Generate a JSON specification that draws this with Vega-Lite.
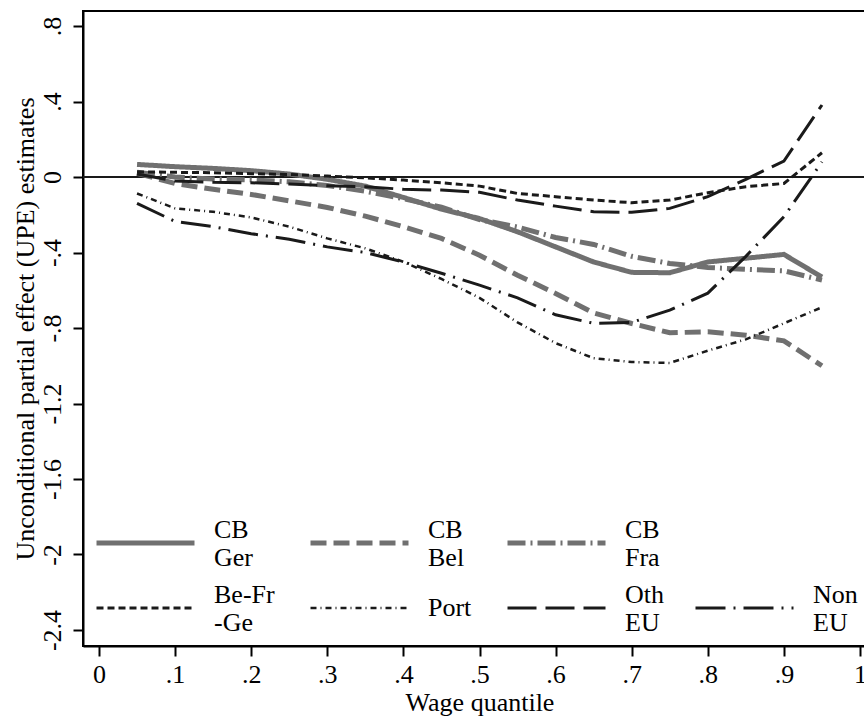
{
"$schema": "https://vega.github.io/schema/vega-lite/v6.json",
"width": 793, "height": 635,
"autosize": "none",
"padding": {"left": 83, "top": 11, "right": 0, "bottom": 77},
"background": "white",
"config": {"view": {"stroke": "#000000", "strokeWidth": 2}, "font": "Liberation Serif"},
"data": {"values": [
{"q":0.05,"s":"CB Ger","v":0.067},{"q":0.10,"s":"CB Ger","v":0.055},{"q":0.15,"s":"CB Ger","v":0.046},{"q":0.20,"s":"CB Ger","v":0.034},{"q":0.25,"s":"CB Ger","v":0.016},{"q":0.30,"s":"CB Ger","v":-0.012},{"q":0.35,"s":"CB Ger","v":-0.048},{"q":0.40,"s":"CB Ger","v":-0.108},{"q":0.45,"s":"CB Ger","v":-0.17},{"q":0.50,"s":"CB Ger","v":-0.22},{"q":0.55,"s":"CB Ger","v":-0.29},{"q":0.60,"s":"CB Ger","v":-0.37},{"q":0.65,"s":"CB Ger","v":-0.45},{"q":0.70,"s":"CB Ger","v":-0.505},{"q":0.75,"s":"CB Ger","v":-0.507},{"q":0.80,"s":"CB Ger","v":-0.45},{"q":0.85,"s":"CB Ger","v":-0.43},{"q":0.90,"s":"CB Ger","v":-0.41},{"q":0.95,"s":"CB Ger","v":-0.53},
{"q":0.05,"s":"CB Bel","v":0.02},{"q":0.10,"s":"CB Bel","v":-0.034},{"q":0.15,"s":"CB Bel","v":-0.065},{"q":0.20,"s":"CB Bel","v":-0.092},{"q":0.25,"s":"CB Bel","v":-0.126},{"q":0.30,"s":"CB Bel","v":-0.161},{"q":0.35,"s":"CB Bel","v":-0.207},{"q":0.40,"s":"CB Bel","v":-0.263},{"q":0.45,"s":"CB Bel","v":-0.325},{"q":0.50,"s":"CB Bel","v":-0.414},{"q":0.55,"s":"CB Bel","v":-0.52},{"q":0.60,"s":"CB Bel","v":-0.617},{"q":0.65,"s":"CB Bel","v":-0.72},{"q":0.70,"s":"CB Bel","v":-0.776},{"q":0.75,"s":"CB Bel","v":-0.825},{"q":0.80,"s":"CB Bel","v":-0.82},{"q":0.85,"s":"CB Bel","v":-0.838},{"q":0.90,"s":"CB Bel","v":-0.868},{"q":0.95,"s":"CB Bel","v":-1.0},
{"q":0.05,"s":"CB Fra","v":0.025},{"q":0.10,"s":"CB Fra","v":0.0},{"q":0.15,"s":"CB Fra","v":-0.01},{"q":0.20,"s":"CB Fra","v":-0.015},{"q":0.25,"s":"CB Fra","v":-0.025},{"q":0.30,"s":"CB Fra","v":-0.045},{"q":0.35,"s":"CB Fra","v":-0.075},{"q":0.40,"s":"CB Fra","v":-0.115},{"q":0.45,"s":"CB Fra","v":-0.16},{"q":0.50,"s":"CB Fra","v":-0.225},{"q":0.55,"s":"CB Fra","v":-0.265},{"q":0.60,"s":"CB Fra","v":-0.32},{"q":0.65,"s":"CB Fra","v":-0.357},{"q":0.70,"s":"CB Fra","v":-0.42},{"q":0.75,"s":"CB Fra","v":-0.458},{"q":0.80,"s":"CB Fra","v":-0.479},{"q":0.85,"s":"CB Fra","v":-0.489},{"q":0.90,"s":"CB Fra","v":-0.497},{"q":0.95,"s":"CB Fra","v":-0.546},
{"q":0.05,"s":"Be-Fr -Ge","v":0.028},{"q":0.10,"s":"Be-Fr -Ge","v":0.025},{"q":0.15,"s":"Be-Fr -Ge","v":0.023},{"q":0.20,"s":"Be-Fr -Ge","v":0.018},{"q":0.25,"s":"Be-Fr -Ge","v":0.014},{"q":0.30,"s":"Be-Fr -Ge","v":0.005},{"q":0.35,"s":"Be-Fr -Ge","v":-0.004},{"q":0.40,"s":"Be-Fr -Ge","v":-0.016},{"q":0.45,"s":"Be-Fr -Ge","v":-0.03},{"q":0.50,"s":"Be-Fr -Ge","v":-0.048},{"q":0.55,"s":"Be-Fr -Ge","v":-0.087},{"q":0.60,"s":"Be-Fr -Ge","v":-0.104},{"q":0.65,"s":"Be-Fr -Ge","v":-0.122},{"q":0.70,"s":"Be-Fr -Ge","v":-0.136},{"q":0.75,"s":"Be-Fr -Ge","v":-0.122},{"q":0.80,"s":"Be-Fr -Ge","v":-0.083},{"q":0.85,"s":"Be-Fr -Ge","v":-0.051},{"q":0.90,"s":"Be-Fr -Ge","v":-0.034},{"q":0.95,"s":"Be-Fr -Ge","v":0.129},
{"q":0.05,"s":"Port","v":-0.087},{"q":0.10,"s":"Port","v":-0.166},{"q":0.15,"s":"Port","v":-0.184},{"q":0.20,"s":"Port","v":-0.214},{"q":0.25,"s":"Port","v":-0.263},{"q":0.30,"s":"Port","v":-0.325},{"q":0.35,"s":"Port","v":-0.378},{"q":0.40,"s":"Port","v":-0.449},{"q":0.45,"s":"Port","v":-0.54},{"q":0.50,"s":"Port","v":-0.64},{"q":0.55,"s":"Port","v":-0.77},{"q":0.60,"s":"Port","v":-0.88},{"q":0.65,"s":"Port","v":-0.96},{"q":0.70,"s":"Port","v":-0.98},{"q":0.75,"s":"Port","v":-0.985},{"q":0.80,"s":"Port","v":-0.92},{"q":0.85,"s":"Port","v":-0.86},{"q":0.90,"s":"Port","v":-0.775},{"q":0.95,"s":"Port","v":-0.69},
{"q":0.05,"s":"Oth EU","v":0.016},{"q":0.10,"s":"Oth EU","v":-0.021},{"q":0.15,"s":"Oth EU","v":-0.028},{"q":0.20,"s":"Oth EU","v":-0.03},{"q":0.25,"s":"Oth EU","v":-0.037},{"q":0.30,"s":"Oth EU","v":-0.046},{"q":0.35,"s":"Oth EU","v":-0.051},{"q":0.40,"s":"Oth EU","v":-0.065},{"q":0.45,"s":"Oth EU","v":-0.069},{"q":0.50,"s":"Oth EU","v":-0.081},{"q":0.55,"s":"Oth EU","v":-0.122},{"q":0.60,"s":"Oth EU","v":-0.154},{"q":0.65,"s":"Oth EU","v":-0.184},{"q":0.70,"s":"Oth EU","v":-0.187},{"q":0.75,"s":"Oth EU","v":-0.166},{"q":0.80,"s":"Oth EU","v":-0.104},{"q":0.85,"s":"Oth EU","v":-0.012},{"q":0.90,"s":"Oth EU","v":0.085},{"q":0.95,"s":"Oth EU","v":0.382},
{"q":0.05,"s":"Non EU","v":-0.14},{"q":0.10,"s":"Non EU","v":-0.235},{"q":0.15,"s":"Non EU","v":-0.263},{"q":0.20,"s":"Non EU","v":-0.30},{"q":0.25,"s":"Non EU","v":-0.33},{"q":0.30,"s":"Non EU","v":-0.37},{"q":0.35,"s":"Non EU","v":-0.40},{"q":0.40,"s":"Non EU","v":-0.45},{"q":0.45,"s":"Non EU","v":-0.51},{"q":0.50,"s":"Non EU","v":-0.573},{"q":0.55,"s":"Non EU","v":-0.64},{"q":0.60,"s":"Non EU","v":-0.73},{"q":0.65,"s":"Non EU","v":-0.775},{"q":0.70,"s":"Non EU","v":-0.77},{"q":0.75,"s":"Non EU","v":-0.705},{"q":0.80,"s":"Non EU","v":-0.615},{"q":0.85,"s":"Non EU","v":-0.42},{"q":0.90,"s":"Non EU","v":-0.21},{"q":0.95,"s":"Non EU","v":0.08}
]},
"layer": [
{"mark": {"type": "rule", "color": "#1a1a1a", "strokeWidth": 2},
 "encoding": {"y": {"datum": 0, "type": "quantitative"}}},
{"mark": {"type": "line"},
 "encoding": {
  "x": {"field": "q", "type": "quantitative",
        "scale": {"domain": [-0.021, 1.021], "nice": false, "zero": false},
        "axis": {"values": [0,0.1,0.2,0.3,0.4,0.5,0.6,0.7,0.8,0.9,1],
                 "labelExpr": "replace(toString(datum.value), '0.', '.')",
                 "grid": false, "domainColor": "#000000", "domainWidth": 2,
                 "tickColor": "#000000", "tickWidth": 2, "tickSize": 10,
                 "labelFontSize": 26, "labelColor": "#000000", "labelBaseline": "alphabetic",
                 "labelPadding": 26, "labelFlush": false, "labelOverlap": false,
                 "title": "Wage quantile", "titleFontSize": 26, "titleFontWeight": "normal",
                 "titleColor": "#000000", "titleBaseline": "alphabetic", "titleY": 64}},
  "y": {"field": "v", "type": "quantitative",
        "scale": {"domain": [-2.485, 0.88], "nice": false, "zero": false},
        "axis": {"values": [-2.4,-2,-1.6,-1.2,-0.8,-0.4,0,0.4,0.8],
                 "labelExpr": "replace(toString(datum.value), '0.', '.')",
                 "grid": false, "domainColor": "#000000", "domainWidth": 2,
                 "tickColor": "#000000", "tickWidth": 2, "tickSize": 10,
                 "labelFontSize": 26, "labelColor": "#000000", "labelAngle": -90,
                 "labelAlign": "center", "labelBaseline": "alphabetic",
                 "labelPadding": 13, "labelFlush": false, "labelOverlap": false,
                 "title": "Unconditional partial effect (UPE) estimates", "titleFontSize": 26,
                 "titleFontWeight": "normal", "titleColor": "#000000",
                 "titleAngle": -90, "titleBaseline": "alphabetic", "titleX": -50}},
  "color": {"field": "s", "type": "nominal",
        "scale": {"domain": ["CB Ger","CB Bel","CB Fra","_","Be-Fr -Ge","Port","Oth EU","Non EU"],
                  "range": ["#707070","#707070","#707070","#ffffff","#1a1a1a","#1a1a1a","#1a1a1a","#1a1a1a"]},
        "legend": {"orient": "none", "legendX": 11, "legendY": 505, "columns": 4, "direction": "horizontal", "title": null,
                   "symbolType": "stroke", "symbolSize": 9604, "labelFontSize": 26,
                   "labelColor": "#000000", "labelLimit": 0, "labelOffset": 17,
                   "columnPadding": 25, "rowPadding": 10, "padding": 0,
                   "labelExpr": "datum.label == '_' ? '' : split(datum.label, ' ')",
                   "encode": {"symbols": {"update": {"y": {"value": 27}}},
                              "labels": {"update": {"y": {"value": 27}, "dy": {"signal": "datum.value == 'Port' ? 0 : -13"}}}}}},
  "strokeDash": {"field": "s", "type": "nominal",
        "scale": {"domain": ["CB Ger","CB Bel","CB Fra","_","Be-Fr -Ge","Port","Oth EU","Non EU"],
                  "range": [[1,0],[16,7],[18,5,2,5],[1,0],[7,4],[6,4,1,4],[29,9],[30,8,2,8]]},
        "legend": {"orient": "none", "legendX": 11, "legendY": 505, "columns": 4, "direction": "horizontal", "title": null,
                   "symbolType": "stroke", "symbolSize": 9604, "labelFontSize": 26,
                   "labelColor": "#000000", "labelLimit": 0, "labelOffset": 17,
                   "columnPadding": 25, "rowPadding": 10, "padding": 0,
                   "labelExpr": "datum.label == '_' ? '' : split(datum.label, ' ')",
                   "encode": {"symbols": {"update": {"y": {"value": 27}}},
                              "labels": {"update": {"y": {"value": 27}, "dy": {"signal": "datum.value == 'Port' ? 0 : -13"}}}}}},
  "strokeWidth": {"field": "s", "type": "nominal",
        "scale": {"type": "ordinal", "domain": ["CB Ger","CB Bel","CB Fra","_","Be-Fr -Ge","Port","Oth EU","Non EU"],
                  "range": [5,5,5,0,3,2.5,3,3]},
        "legend": {"orient": "none", "legendX": 11, "legendY": 505, "columns": 4, "direction": "horizontal", "title": null,
                   "symbolType": "stroke", "symbolSize": 9604, "labelFontSize": 26,
                   "labelColor": "#000000", "labelLimit": 0, "labelOffset": 17,
                   "columnPadding": 25, "rowPadding": 10, "padding": 0,
                   "labelExpr": "datum.label == '_' ? '' : split(datum.label, ' ')",
                   "encode": {"symbols": {"update": {"y": {"value": 27}}},
                              "labels": {"update": {"y": {"value": 27}, "dy": {"signal": "datum.value == 'Port' ? 0 : -13"}}}}}}
 }}
]
}
